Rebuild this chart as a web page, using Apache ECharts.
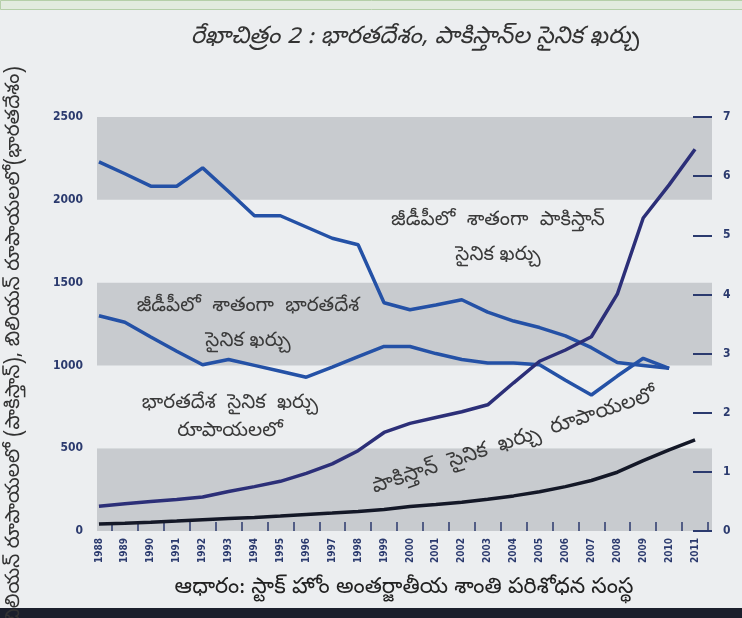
<!DOCTYPE html>
<html>
<head>
<meta charset="utf-8">
<script src="https://cdn.jsdelivr.net/npm/echarts@6.0.0/dist/echarts.min.js"></script>
<style>
html, body { margin: 0; padding: 0; background: #eceef0; }
#chart { width: 742px; height: 618px; }
</style>
</head>
<body>
<div id="chart"></div>
<script>
// సంవత్సరాలు
var years = ['1988', '1989', '1990', '1991', '1992', '1993', '1994', '1995', '1996', '1997', '1998', '1999',
    '2000', '2001', '2002', '2003', '2004', '2005', '2006', '2007', '2008', '2009', '2010', '2011'];

// రూపాయలలో ఖర్చు (ఎడమ అక్షం)
var indiaRupees = [150, 165, 178, 190, 205, 238, 268, 300, 348, 405, 485, 595,
    650, 685, 720, 762, 895, 1025, 1093, 1173, 1430, 1890, 2090, 2305];
var pakRupees = [42, 47, 53, 60, 68, 75, 82, 90, 100, 108, 118, 130,
    148, 160, 174, 192, 212, 237, 268, 305, 355, 425, 490, 550];

// జీడీపీలో శాతం (కుడి అక్షం)
var pakGdp = [6.24, 6.04, 5.83, 5.83, 6.14, 5.74, 5.33, 5.33, 5.14, 4.95, 4.84, 3.86,
    3.74, 3.82, 3.91, 3.7, 3.55, 3.44, 3.3, 3.1, 2.85, 2.8, 2.75];
var indiaGdp = [3.64, 3.53, 3.28, 3.04, 2.81, 2.9, 2.8, 2.7, 2.6, 2.77, 2.95, 3.12,
    3.12, 3.0, 2.9, 2.84, 2.84, 2.81, 2.55, 2.3, 2.62, 2.92, 2.75];

var TE = "'Noto Sans Telugu', 'Noto Sans', sans-serif";
var NUM = "'Liberation Sans Narrow', 'DejaVu Sans Condensed', sans-serif";
var NAVY = '#2b3a6e';

var myChart = echarts.init(document.getElementById('chart'));

myChart.setOption({
    backgroundColor: '#eceef0',
    animation: false,
    grid: [
        // పట్టీల నేపథ్యం
        {left: 97, right: 30, top: 117, bottom: 87},
        // రేఖలు
        {left: 86, right: 34, top: 117, bottom: 87}
    ],
    xAxis: [
        {gridIndex: 0, type: 'value', min: 0, max: 1, show: false},
        {
            gridIndex: 1,
            type: 'category',
            data: years,
            boundaryGap: true,
            axisLine: {show: false},
            axisTick: {
                show: true, inside: true, length: 9,
                interval: function (i) { return i > 0; },
                lineStyle: {color: NAVY, width: 1.5}
            },
            axisLabel: {rotate: 90, margin: 7, fontFamily: NUM, fontWeight: 'bold', fontSize: 10, color: NAVY}
        }
    ],
    yAxis: [
        {
            gridIndex: 0, position: 'left', min: 0, max: 2500, interval: 500,
            axisLine: {show: false}, axisTick: {show: false},
            splitLine: {show: false},
            splitArea: {show: true, areaStyle: {color: ['#c8cbcf', '#eceef0']}},
            axisLabel: {
                margin: 14, fontFamily: NUM, fontWeight: 'bold', fontSize: 12, color: NAVY,
                formatter: function (v) { return String(v); }
            }
        },
        {
            gridIndex: 0, position: 'right', min: 0, max: 7, interval: 1,
            axisLine: {show: false},
            axisTick: {show: true, inside: true, length: 19, lineStyle: {color: NAVY, width: 2}},
            splitLine: {show: false},
            axisLabel: {margin: 11, fontFamily: NUM, fontWeight: 'bold', fontSize: 12, color: NAVY}
        },
        {gridIndex: 1, position: 'left', min: 0, max: 2500, show: false},
        {gridIndex: 1, position: 'right', min: 0, max: 7, show: false}
    ],
    series: [
        {
            name: 'జీడీపీలో శాతంగా పాకిస్తాన్ సైనిక ఖర్చు',
            type: 'line', xAxisIndex: 1, yAxisIndex: 3, showSymbol: false,
            lineStyle: {color: '#2451a6', width: 3.5}, data: pakGdp
        },
        {
            name: 'జీడీపీలో శాతంగా భారతదేశ సైనిక ఖర్చు',
            type: 'line', xAxisIndex: 1, yAxisIndex: 3, showSymbol: false,
            lineStyle: {color: '#2451a6', width: 3.5}, data: indiaGdp
        },
        {
            name: 'భారతదేశ సైనిక ఖర్చు రూపాయలలో',
            type: 'line', xAxisIndex: 1, yAxisIndex: 2, showSymbol: false,
            lineStyle: {color: '#2c2f78', width: 3.5}, data: indiaRupees
        },
        {
            name: 'పాకిస్తాన్ సైనిక ఖర్చు రూపాయలలో',
            type: 'line', xAxisIndex: 1, yAxisIndex: 2, showSymbol: false,
            lineStyle: {color: '#141827', width: 3.5}, data: pakRupees
        }
    ],
    graphic: [
        {type: 'rect', left: 0, top: 0, z: 100, shape: {width: 742, height: 9}, style: {fill: '#e2ebdf', stroke: '#b5cfa9', lineWidth: 1}},
        {type: 'rect', left: 0, top: 608, z: 100, shape: {width: 742, height: 10}, style: {fill: '#1b1f2c'}},
        {
            type: 'text', x: 415, y: 40, z: 100,
            style: {text: 'రేఖాచిత్రం 2 : భారతదేశం, పాకిస్తాన్‌ల సైనిక ఖర్చు', font: 'italic 24px ' + TE,
                fill: '#333', align: 'center', verticalAlign: 'middle'}
        },
        {
            type: 'text', x: 16, y: 345, z: 100, rotation: Math.PI / 2,
            style: {text: 'బిలియన్ రూపాయలలో (పాకిస్తాన్), బిలియన్ రూపాయలలో(భారతదేశం)', font: '20px ' + TE,
                fill: '#333', align: 'center', verticalAlign: 'middle'}
        },
        {
            type: 'text', x: 498, y: 240, z: 100,
            style: {text: 'జీడీపీలో  శాతంగా  పాకిస్తాన్\nసైనిక ఖర్చు', font: '20px ' + TE, lineHeight: 35,
                fill: '#3a3a3a', align: 'center', verticalAlign: 'middle'}
        },
        {
            type: 'text', x: 248, y: 326, z: 100,
            style: {text: 'జీడీపీలో  శాతంగా  భారతదేశ\nసైనిక ఖర్చు', font: '20px ' + TE, lineHeight: 35,
                fill: '#3a3a3a', align: 'center', verticalAlign: 'middle'}
        },
        {
            type: 'text', x: 230, y: 419, z: 100,
            style: {text: 'భారతదేశ  సైనిక  ఖర్చు\nరూపాయలలో', font: '20px ' + TE, lineHeight: 28,
                fill: '#3a3a3a', align: 'center', verticalAlign: 'middle'}
        },
        {
            type: 'text', x: 515, y: 443, z: 100, rotation: 0.32,
            style: {text: 'పాకిస్తాన్  సైనిక  ఖర్చు  రూపాయలలో', font: '21px ' + TE,
                fill: '#3a3a3a', align: 'center', verticalAlign: 'middle'}
        },
        {
            type: 'text', x: 404, y: 590, z: 100,
            style: {text: 'ఆధారం: స్టాక్ హోం అంతర్జాతీయ శాంతి పరిశోధన సంస్థ', font: '22px ' + TE,
                fill: '#222', align: 'center', verticalAlign: 'middle'}
        }
    ]
});
</script>
</body>
</html>
